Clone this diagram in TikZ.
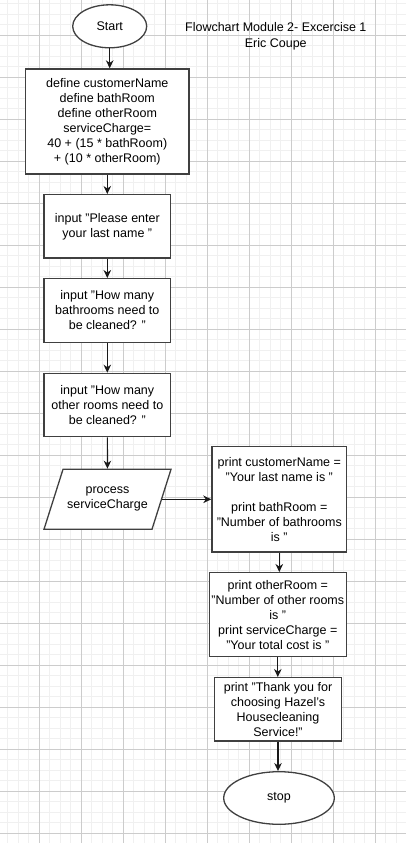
\documentclass[tikz,border=0pt]{standalone}
\usepackage{fontspec}
\setmainfont{Liberation Sans}
\usetikzlibrary{shapes.geometric,arrows.meta}

\begin{document}
\begin{tikzpicture}[x=1pt,y=-1pt,
    caja/.style={draw=black!75,line width=1.3pt,fill=white,align=center,
      inner sep=1pt,font=\fontsize{12.5}{15}\selectfont},
    ovalo/.style={caja,ellipse},
    flecha/.style={-{Stealth[length=8pt,width=7.5pt,inset=2.5pt]},line width=1.2pt,black!90}]
  % Fondo y cuadricula
  \useasboundingbox (0,0) rectangle (406,843);
  \fill[white] (0,0) rectangle (406,843);
  \foreach \gx in {7.8,18.3,...,406} \draw[black!6,line width=0.9pt] (\gx,0)--(\gx,843);
  \foreach \gy in {3.8,14.3,...,843} \draw[black!6,line width=0.9pt] (0,\gy)--(406,\gy);
  \foreach \gx in {39.3,81.3,...,406} \draw[black!20,line width=0.9pt] (\gx,0)--(\gx,843);
  \foreach \gy in {35.3,77.3,...,843} \draw[black!20,line width=0.9pt] (0,\gy)--(406,\gy);
  % Titulo
  \node[align=center,font=\fontsize{12.5}{15.7}\selectfont] (titulo) at (275.8,36.2)
    {Flowchart Module 2- Excercise 1\\Eric Coupe};
  % Columna izquierda
  \node[ovalo,minimum width=74pt,minimum height=43pt] (inicio) at (109.7,26.3) {Start};
  \node[caja,minimum width=163.3pt,minimum height=105pt] (definir) at (107.3,121.5)
    {define customerName\\define bathRoom\\define otherRoom\\serviceCharge=\\40 + (15 * bathRoom)\\+ (10 * otherRoom)};
  \node[caja,minimum width=126.7pt,minimum height=63.3pt] (nombre) at (107.3,226.3)
    {input "Please enter\\your last name "};
  \node[caja,minimum width=126.7pt,minimum height=63.6pt] (banos) at (107.3,310.5)
    {input "How many\\bathrooms need to\\be cleaned? "};
  \node[caja,minimum width=126.7pt,minimum height=63.4pt] (otros) at (107.3,405)
    {input "How many\\other rooms need to\\be cleaned? "};
  \node[caja,trapezium,trapezium left angle=72.4,trapezium right angle=107.6,
    inner ysep=17.8pt,trapezium stretches body=true,minimum width=127pt] (proceso) at (107.5,499.3)
    {process\\serviceCharge};
  % Columna derecha
  \node[caja,minimum width=134.7pt,minimum height=105.3pt] (imprimir) at (279.3,499.3)
    {print customerName =\\"Your last name is "\\[15pt]print bathRoom =\\"Number of bathrooms\\is "};
  \node[caja,minimum width=137pt,minimum height=84pt] (total) at (277.8,614.7)
    {print otherRoom =\\"Number of other rooms\\is "\\print serviceCharge =\\"Your total cost is "};
  \node[caja,minimum width=126.6pt,minimum height=63.3pt] (gracias) at (278,709.3)
    {print "Thank you for\\choosing Hazel's\\Housecleaning\\Service!"};
  \node[ovalo,minimum width=110.6pt,minimum height=52.6pt] (fin) at (279,798) {stop};
  % Flechas
  \draw[flecha] (inicio.south) -- (inicio.south |- definir.north);
  \draw[flecha] (definir.south) -- (nombre.north);
  \draw[flecha] (nombre) -- (banos);
  \draw[flecha] (banos) -- (otros);
  \draw[flecha] (otros) -- (proceso);
  \draw[flecha] (proceso.east) -- (proceso.east -| imprimir.west);
  \draw[flecha] (imprimir.south) -- (imprimir.south |- total.north);
  \draw[flecha] (total.south) -- (total.south |- gracias.north);
  \draw[flecha] (gracias.south) -- (gracias.south |- fin.north);
\end{tikzpicture}
\end{document}
